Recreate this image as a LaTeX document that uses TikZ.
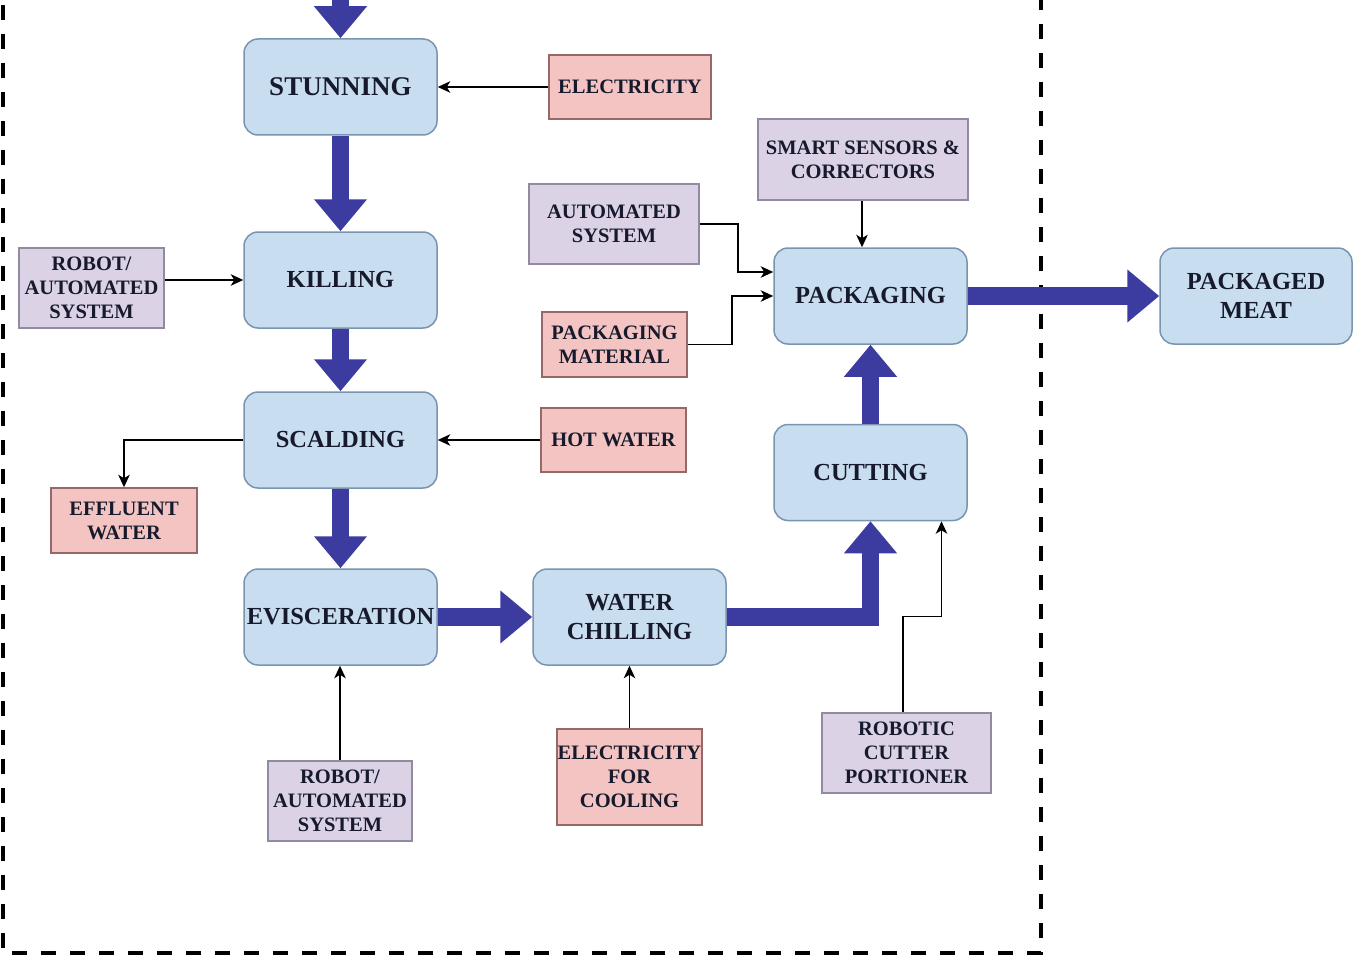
\documentclass[tikz,border=0pt]{standalone}
\usepackage{fontspec}
\setmainfont{Liberation Serif}
\usetikzlibrary{arrows.meta,calc}
\definecolor{procfill}{RGB}{201,221,241}
\definecolor{procdraw}{RGB}{122,148,176}
\definecolor{pinkfill}{RGB}{244,196,194}
\definecolor{pinkdraw}{RGB}{150,104,104}
\definecolor{purpfill}{RGB}{220,210,230}
\definecolor{purpdraw}{RGB}{145,138,160}
\definecolor{flow}{RGB}{60,60,160}
\definecolor{txt}{RGB}{22,26,44}
\tikzset{
  proc/.style={rectangle, rounded corners=14pt, fill=procfill, draw=procdraw, line width=1.5pt,
    minimum width=193pt, minimum height=96pt, inner sep=0pt, align=center, text=txt,
    font=\bfseries\fontsize{24.5}{29}\selectfont},
  pinkbox/.style={rectangle, fill=pinkfill, draw=pinkdraw, line width=1.5pt, inner sep=0pt,
    align=center, text=txt, font=\bfseries\fontsize{20.5}{24}\selectfont},
  purpbox/.style={rectangle, fill=purpfill, draw=purpdraw, line width=1.5pt, inner sep=0pt,
    align=center, text=txt, font=\bfseries\fontsize{20.5}{24}\selectfont},
  fat/.style={draw=flow, line width=17.5pt, line join=miter,
    -{Triangle[length=32pt,width=51pt,color=flow]}},
  thin/.style={draw=black, line width=1.5pt, -{Stealth[length=12.5pt,width=11.5pt,inset=3.5pt]}},
  frame/.style={draw=black, line width=4.5pt, dash pattern=on 15pt off 14pt}
}
\begin{document}
\begin{tikzpicture}[x=1pt,y=-1pt]
\useasboundingbox (0,0) rectangle (1356,960);

% dashed boundary
\draw[frame] (3,-24) -- (3,953) -- (1041,953) -- (1041,-24);

% process nodes
\node[proc, font=\bfseries\fontsize{27}{31}\selectfont] (stun) at (340.5,87) {STUNNING};
\node[proc] (kill) at (340.5,280) {KILLING};
\node[proc] (scald) at (340.5,440) {SCALDING};
\node[proc] (evis) at (340.5,617) {EVISCERATION};
\node[proc] (chill) at (629.5,617) {WATER\\CHILLING};
\node[proc] (cut) at (870.5,472.5) {CUTTING};
\node[proc] (pack) at (870.5,296) {PACKAGING};
\node[proc, minimum width=192pt] (meat) at (1256,296) {PACKAGED\\MEAT};

% input / output boxes
\node[pinkbox, minimum width=162pt, minimum height=64pt] (elec) at (630,87) {ELECTRICITY};
\node[purpbox, minimum width=170pt, minimum height=80pt] (auto) at (614,224) {AUTOMATED\\SYSTEM};
\node[purpbox, minimum width=210pt, minimum height=81pt] (smart) at (863,159.5) {SMART SENSORS \&\\CORRECTORS};
\node[pinkbox, minimum width=145pt, minimum height=65pt] (pm) at (614.5,344.5) {PACKAGING\\MATERIAL};
\node[pinkbox, minimum width=145pt, minimum height=64pt] (hot) at (613.5,440) {HOT WATER};
\node[purpbox, minimum width=145pt, minimum height=80pt] (robl) at (91.5,288) {ROBOT/\\AUTOMATED\\SYSTEM};
\node[pinkbox, minimum width=146pt, minimum height=65pt] (eff) at (124,520.5) {EFFLUENT\\WATER};
\node[purpbox, minimum width=144pt, minimum height=80pt] (robb) at (340,801) {ROBOT/\\AUTOMATED\\SYSTEM};
\node[pinkbox, minimum width=145pt, minimum height=96pt] (elecc) at (629.5,777) {ELECTRICITY\\FOR\\COOLING};
\node[purpbox, minimum width=169pt, minimum height=80pt] (rcut) at (906.5,753) {ROBOTIC\\CUTTER\\PORTIONER};

\coordinate (entry) at (340.5,-30);

% main flow
\draw[fat] (entry) -- (stun.north);
\draw[fat] (stun.south) -- (kill.north);
\draw[fat] (kill.south) -- (scald.north);
\draw[fat] (scald.south) -- (evis.north);
\draw[fat] (evis.east) -- (chill.west);
\draw[fat] (chill.east) -| (cut.south);
\draw[fat] (cut.north) -- (pack.south);
\draw[fat] (pack.east) -- (meat.west);

% thin connectors
\draw[thin] (elec.west) -- (stun.east);
\draw[thin] (robl.east |- kill.west) -- (kill.west);
\draw[thin] (auto.east) -- ++(38,0) |- ($(pack.west)+(0,-24)$);
\draw[thin] (pm.east) -- ++(44,0) |- (pack.west);
\draw[thin] ($(smart.south)+(-1,0)$) -- ($(smart.south |- pack.north)+(-1,0)$);
\draw[thin] (hot.west) -- (scald.east);
\draw[thin] (scald.west) -| (eff.north);
\draw[thin] (robb.north) -- (robb.north |- evis.south);
\draw[thin] (elecc.north) -- (chill.south);
\draw[thin] ($(rcut.north)+(-3.5,0)$) -- ++(0,-96) -| ($(cut.south)+(71,0)$);
\end{tikzpicture}
\end{document}
